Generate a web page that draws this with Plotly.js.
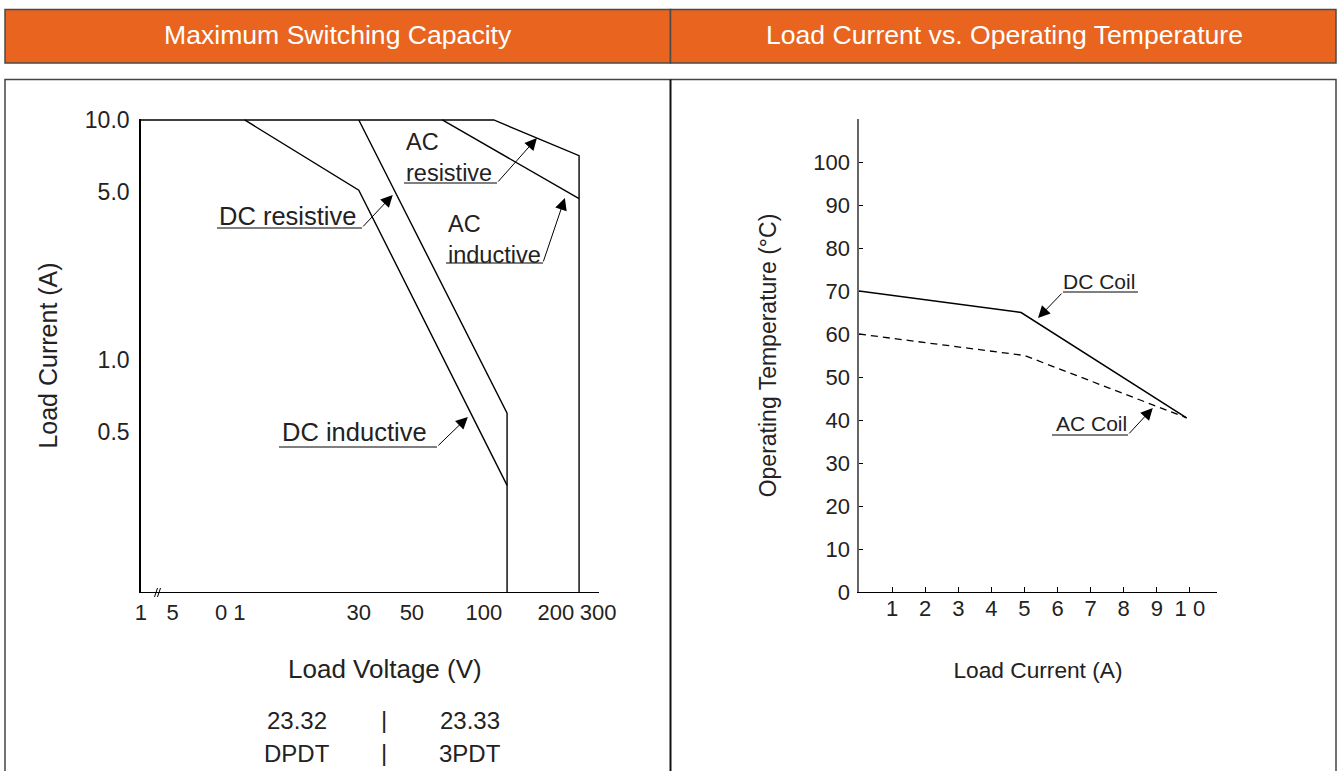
<!DOCTYPE html>
<html><head><meta charset="utf-8">
<script src="https://cdn.plot.ly/plotly-3.0.1.min.js"></script>
<style>html,body{margin:0;padding:0;background:#fff}#chart{width:1338px;height:771px}</style>
</head><body><div id="chart"></div>
<script>
// ---------- Left chart: Maximum Switching Capacity (log-log) ----------
const voltTickVals = [3.68, 5, 8.7, 30, 50, 100, 200, 300];
const voltTickText = ['1', '5', '0 1', '30', '50', '100', '200', '300'];
const ampTickVals = [10, 5, 1, 0.5];
const ampTickText = ['10.0', '5.0', '1.0', '0.5'];

const acResistiveV = [3.67, 110, 250, 250];
const acResistiveA = [10, 10, 7.1, 0.108];
const acInductiveV = [67, 250];
const acInductiveA = [10, 4.7];
const dcResistiveV = [30, 125, 125];
const dcResistiveA = [10, 0.6, 0.108];
const dcInductiveV = [10, 30, 125];
const dcInductiveA = [10, 5.1, 0.3];

// ---------- Right chart: Load Current vs. Operating Temperature ----------
const currentTickVals = [1, 2, 3, 4, 5, 6, 7, 8, 9, 10];
const currentTickText = ['1', '2', '3', '4', '5', '6', '7', '8', '9', '1 0'];
const tempTickVals = [0, 10, 20, 30, 40, 50, 60, 70, 80, 90, 100];
const dcCoilCurrent = [0, 4.9, 9.9];
const dcCoilTemp = [70, 65, 40.5];
const acCoilCurrent = [0, 5, 9.9];
const acCoilTemp = [60, 55, 40.5];

const W = 1338, H = 771;
const P = x => x / W;
const Q = y => 1 - y / H;
const FONT = 'Liberation Sans, Arial, Helvetica, sans-serif';
const TXT = '#222';

const lineStyle = {color: '#000', width: 1.4};
const traces = [
  {x: acResistiveV, y: acResistiveA, name: 'AC resistive', mode: 'lines', line: lineStyle, xaxis: 'x', yaxis: 'y'},
  {x: acInductiveV, y: acInductiveA, name: 'AC inductive', mode: 'lines', line: lineStyle, xaxis: 'x', yaxis: 'y'},
  {x: dcResistiveV, y: dcResistiveA, name: 'DC resistive', mode: 'lines', line: lineStyle, xaxis: 'x', yaxis: 'y'},
  {x: dcInductiveV, y: dcInductiveA, name: 'DC inductive', mode: 'lines', line: lineStyle, xaxis: 'x', yaxis: 'y'},
  {x: dcCoilCurrent, y: dcCoilTemp, name: 'DC Coil', mode: 'lines', line: {color: '#000', width: 1.5}, xaxis: 'x2', yaxis: 'y2'},
  {x: acCoilCurrent, y: acCoilTemp, name: 'AC Coil', mode: 'lines', line: {color: '#000', width: 1.3, dash: '7px,5px'}, xaxis: 'x2', yaxis: 'y2'}
];

function txt(text, x, y, size, opts) {
  return Object.assign({text: text, xref: 'paper', yref: 'paper', x: P(x), y: Q(y),
    showarrow: false, xanchor: 'left', yanchor: 'middle', align: 'left',
    font: {family: FONT, size: size, color: TXT}}, opts || {});
}
function arrow(xref, yref, x, y, ax, ay) {
  return {text: '', xref: xref, yref: yref, x: x, y: y, ax: ax, ay: ay,
    showarrow: true, arrowhead: 2, arrowsize: 2.4, arrowwidth: 1, arrowcolor: '#000', standoff: 0};
}
function hline(x0, x1, y) {
  return {type: 'line', xref: 'paper', yref: 'paper', x0: P(x0), x1: P(x1), y0: Q(y), y1: Q(y),
    line: {color: '#000', width: 1}};
}
const L = Math.log10;

const annotations = [
  txt('Maximum Switching Capacity', 338, 35, 26.6, {xanchor: 'center', font: {family: FONT, size: 26.6, color: '#fff'}}),
  txt('Load Current vs. Operating Temperature', 1004, 35, 26.6, {xanchor: 'center', font: {family: FONT, size: 26.6, color: '#fff'}}),
  // left chart x-axis title (offset from the axis centre in the reference)
  txt('Load Voltage (V)', 385, 669, 26, {xanchor: 'center'}),
  // left chart labels
  txt('AC<br>resistive', 404, 158, 23.5, {}),
  txt('DC resistive', 217, 216, 25.5, {}),
  txt('AC<br>inductive', 446, 239, 23.5, {}),
  txt('DC inductive', 280, 432, 25.5, {}),
  arrow('x', 'y', L(41.6), L(4.87), -31, 33),
  arrow('x', 'y', L(166.6), L(8.41), -40, 45),
  arrow('x', 'y', L(218), L(4.73), -22, 65),
  arrow('x', 'y', L(85.7), L(0.579), -31, 30),
  // right chart labels
  txt('DC Coil', 1061, 281, 21, {}),
  txt('AC Coil', 1054, 423, 21, {}),
  arrow('x2', 'y2', 5.41, 63.7, 25, -26),
  arrow('x2', 'y2', 8.88, 42.8, -25, 27),
  // bottom model table
  txt('23.32', 297, 720, 24, {xanchor: 'center'}),
  txt('|', 384, 719, 24, {xanchor: 'center'}),
  txt('23.33', 470, 720, 24, {xanchor: 'center'}),
  txt('DPDT', 297, 753, 24, {xanchor: 'center'}),
  txt('|', 384, 752, 24, {xanchor: 'center'}),
  txt('3PDT', 470, 753, 24, {xanchor: 'center'})
];

const shapes = [
  {type: 'rect', xref: 'paper', yref: 'paper', x0: P(5), x1: P(670.5), y0: Q(63), y1: Q(9.5),
    fillcolor: '#E8641F', line: {color: '#4a4a4a', width: 1.5}, layer: 'below'},
  {type: 'rect', xref: 'paper', yref: 'paper', x0: P(670.5), x1: P(1336), y0: Q(63), y1: Q(9.5),
    fillcolor: '#E8641F', line: {color: '#4a4a4a', width: 1.5}, layer: 'below'},
  {type: 'rect', xref: 'paper', yref: 'paper', x0: P(5), x1: P(1336), y0: Q(780), y1: Q(79.5),
    line: {color: '#444', width: 1.5}, layer: 'below'},
  {type: 'line', xref: 'paper', yref: 'paper', x0: P(670.5), x1: P(670.5), y0: Q(79.5), y1: Q(780),
    line: {color: '#111', width: 2}},
  hline(404, 497, 183),
  hline(217, 362, 228),
  hline(446, 543, 263),
  hline(279, 437, 447),
  hline(1063, 1138, 292),
  hline(1052, 1128, 435),
  // axis break mark
  {type: 'line', xref: 'paper', yref: 'paper', x0: P(154.5), x1: P(157.5), y0: Q(597), y1: Q(588), line: {color: '#000', width: 1}},
  {type: 'line', xref: 'paper', yref: 'paper', x0: P(157.5), x1: P(160.5), y0: Q(597), y1: Q(588), line: {color: '#000', width: 1}}
];

const tickFontL = {family: FONT, size: 23, color: TXT};
const tickFontR = {family: FONT, size: 22, color: TXT};

const layout = {
  width: W, height: H,
  margin: {l: 0, r: 0, t: 0, b: 0},
  paper_bgcolor: '#fff', plot_bgcolor: 'rgba(0,0,0,0)',
  showlegend: false,
  font: {family: FONT, color: TXT},
  xaxis: {
    type: 'log', domain: [P(140.5), P(598.5)], range: [L(3.67), 2.4791],
    anchor: 'y', showgrid: false, zeroline: false, showline: true, linecolor: '#000', linewidth: 1.3,
    ticks: '', tickmode: 'array', tickvals: voltTickVals, ticktext: voltTickText,
    tickfont: tickFontR, ticklabelstandoff: 0
  },
  yaxis: {
    type: 'log', domain: [Q(592), Q(119)], range: [-0.967, 1.004],
    anchor: 'x', showgrid: false, zeroline: false, showline: true, linecolor: '#000', linewidth: 1.3,
    ticks: '', tickmode: 'array', tickvals: ampTickVals, ticktext: ampTickText,
    tickfont: tickFontL, ticklabelstandoff: 5,
    title: {text: 'Load Current (A)', font: {family: FONT, size: 25, color: TXT}, standoff: 20}
  },
  xaxis2: {
    domain: [P(859), P(1217)], range: [0, 10.82],
    anchor: 'y2', showgrid: false, zeroline: false, showline: true, linecolor: '#000', linewidth: 1.3,
    ticks: 'inside', ticklen: 5, tickcolor: '#000', tickwidth: 1,
    tickmode: 'array', tickvals: currentTickVals, ticktext: currentTickText,
    tickfont: tickFontR, ticklabelstandoff: -4,
    title: {text: 'Load Current (A)', font: {family: FONT, size: 22.7, color: TXT}, standoff: 42}
  },
  yaxis2: {
    domain: [Q(592), Q(119)], range: [0, 110],
    anchor: 'x2', showgrid: false, zeroline: false, showline: true, linecolor: '#666', linewidth: 1.6,
    ticks: 'inside', ticklen: 4, tickcolor: '#000', tickwidth: 1,
    tickmode: 'array', tickvals: tempTickVals,
    tickfont: tickFontR, ticklabelstandoff: 3,
    title: {text: 'Operating Temperature (°C)', font: {family: FONT, size: 23, color: TXT}, standoff: 30}
  },
  annotations: annotations,
  shapes: shapes
};

Plotly.newPlot('chart', traces, layout, {staticPlot: true, displayModeBar: false});
</script>
</body></html>
